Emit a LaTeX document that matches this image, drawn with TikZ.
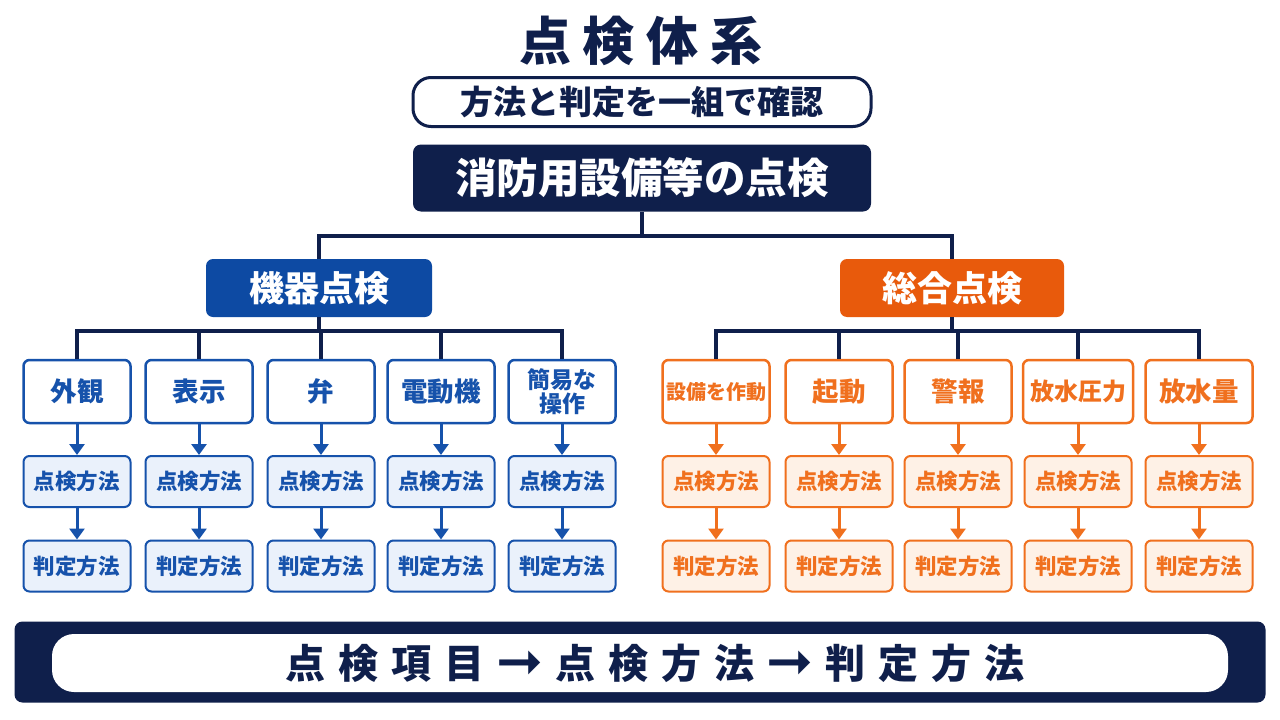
\documentclass[tikz,border=0pt]{standalone}
\usepackage{fontspec}
\setmainfont{Noto Sans CJK JP}
\newfontfamily\symfont{DejaVu Sans}
\usetikzlibrary{arrows.meta}
\definecolor{navy}{HTML}{0F1F4B}
\definecolor{kblue}{HTML}{0D4AA3}
\definecolor{bblue}{HTML}{1652AB}
\definecolor{lblue}{HTML}{EAF1FB}
\definecolor{korange}{HTML}{E85A0C}
\definecolor{borange}{HTML}{F0701E}
\definecolor{lorange}{HTML}{FEF1E6}
\newcommand{\fs}[1]{\fontsize{#1}{#1}\selectfont\bfseries}
\newcommand{\barr}{{\symfont\bfseries\fontsize{56}{56}\selectfont\raisebox{-2pt}{➞}}}
\tikzset{
  subbox/.style={draw=navy, line width=3pt, fill=white, rounded corners=18pt, minimum width=458pt, minimum height=49pt, inner sep=0pt, text=navy, font=\fs{33}},
  mainbox/.style={fill=navy, rounded corners=8pt, minimum width=458pt, minimum height=67pt, inner sep=0pt, text=white, font=\fs{41.5}},
  catbox/.style={rounded corners=7pt, minimum height=58pt, inner sep=0pt, text=white, font=\fs{35}},
  lvtwo/.style={draw=#1, line width=2.5pt, fill=white, rounded corners=6pt, minimum width=107pt, minimum height=63pt, inner sep=0pt, text=#1, font=\fs{26.5}, align=center},
  lvthree/.style={draw=#1, line width=2pt, rounded corners=6pt, minimum width=107pt, minimum height=51pt, inner sep=0pt, text=#1, font=\fs{21.5}},
  conn/.style={draw=navy, line width=3.5pt},
  farrow/.style={draw=#1, line width=3pt, -{Triangle[width=15pt,length=11pt]}},
}
\begin{document}
\begin{tikzpicture}[x=1pt,y=-1pt]
\useasboundingbox[fill=white] (0,0) rectangle (1280,720);
% title
\node[text=navy, font=\fs{52}, inner sep=0pt] (title) at (641,41) {点\kern12pt 検\kern12pt 体\kern12pt 系};
\node[subbox] (sub) at (642,102) {方法と判定を一組で確認};
\node[mainbox] (main) at (642,178) {消防用設備等の点検};
% categories
\node[catbox, fill=kblue, minimum width=226pt] (kiki) at (319,288) {機器点検};
\node[catbox, fill=korange, minimum width=224pt] (sogo) at (952,288) {総合点検};
\coordinate (hub) at (640,236);
\draw[conn] (main.south) -- (main.south |- hub);
\draw[conn] (kiki.north) -- (kiki.north |- hub) -- (sogo.north |- hub) -- (sogo.north);
% level 2
\foreach \n/\x/\t in {a1/77/外観, a2/199/表示, a3/321/弁, a4/441/電動機}{
  \node[lvtwo=bblue] (\n) at (\x,391.5) {\t};
}
\node[lvtwo=bblue, font=\fs{23}, text width=100pt, align=center] (a5) at (562,391.5) {\fs{23}簡易な\\[1pt]操作};
\node[lvtwo=borange, font=\fs{20}] (b1) at (716,391.5) {設備を作動};
\node[lvtwo=borange] (b2) at (839,391.5) {起動};
\node[lvtwo=borange] (b3) at (958,391.5) {警報};
\node[lvtwo=borange, minimum width=110pt, font=\fs{24}] (b4) at (1078,391.5) {放水圧力};
\node[lvtwo=borange] (b5) at (1199,391.5) {放水量};
\coordinate (hubL) at (0,331);
\draw[conn] (kiki.south) -- (kiki.south |- hubL);
\draw[conn] (sogo.south) -- (sogo.south |- hubL);
\draw[conn] (a1.north) -- (a1.north |- hubL) -- (a5.north |- hubL) -- (a5.north);
\draw[conn] (b1.north) -- (b1.north |- hubL) -- (b5.north |- hubL) -- (b5.north);
\foreach \n in {a2,a3,a4,b2,b3,b4}{
  \draw[conn] (\n.north) -- (\n.north |- hubL);
}
% level 3 and 4
\foreach \i in {1,...,5}{
  \node[lvthree=bblue, fill=lblue] (ma\i) at (a\i |- 0,481.5) {点検方法};
  \node[lvthree=bblue, fill=lblue] (ja\i) at (a\i |- 0,566) {判定方法};
  \draw[farrow=bblue] (a\i.south) -- (ma\i.north);
  \draw[farrow=bblue] (ma\i.south) -- (ja\i.north);
  \node[lvthree=borange, fill=lorange] (mb\i) at (b\i |- 0,481.5) {点検方法};
  \node[lvthree=borange, fill=lorange] (jb\i) at (b\i |- 0,566) {判定方法};
  \draw[farrow=borange] (b\i.south) -- (mb\i.north);
  \draw[farrow=borange] (mb\i.south) -- (jb\i.north);
}
% bottom bar
\node[fill=navy, rounded corners=8pt, minimum width=1251pt, minimum height=81pt, inner sep=0pt] (bar) at (640,662) {};
\node[fill=white, rounded corners=22pt, minimum width=1176pt, minimum height=58pt, inner sep=0pt, text=navy, font=\fs{40}] (inner) at (640,663)
  {\kern30pt 点\kern13pt 検\kern13pt 項\kern13pt 目\kern12pt\barr\kern12pt 点\kern13pt 検\kern13pt 方\kern13pt 法\kern12pt\barr\kern12pt 判\kern13pt 定\kern13pt 方\kern13pt 法};
\end{tikzpicture}
\end{document}
